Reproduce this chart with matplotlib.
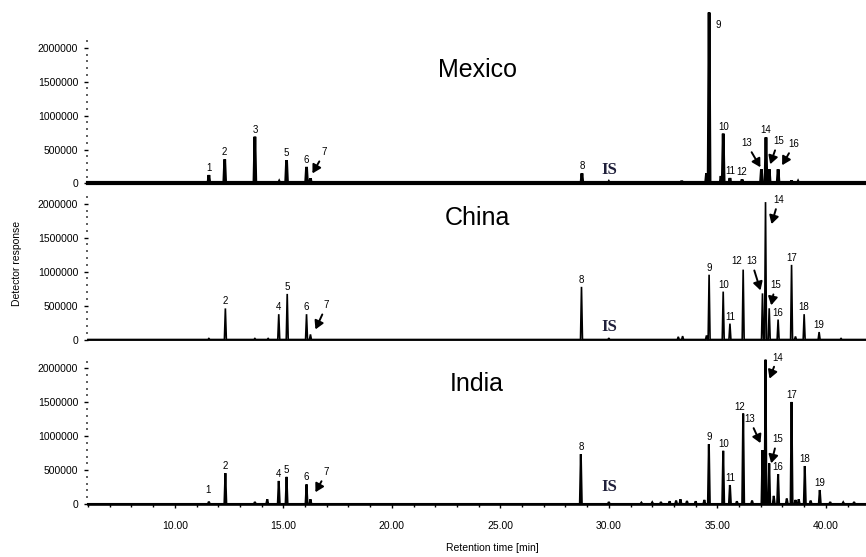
import matplotlib
matplotlib.use("Agg")
import matplotlib.pyplot as plt
from matplotlib.ticker import MultipleLocator, FixedLocator, FormatStrFormatter
import numpy as np

plt.rcParams['font.family'] = ['Liberation Sans', 'DejaVu Sans']

# ---------------- data ----------------
panels = ["Mexico", "China", "India"]
x_ticks = [10, 15, 20, 25, 30, 35, 40]
y_ticks = [0, 500000, 1000000, 1500000, 2000000]

# Mexico: labelled peaks
mex_labels = ["1", "2", "3", "5", "6", "7", "8", "9", "10", "11", "12", "13", "14", "15", "16"]
mex_times = [11.57, 12.30, 13.69, 15.15, 16.07, 16.25, 28.76, 34.62, 35.27, 35.58, 36.14, 37.03, 37.24, 37.39, 37.80]
mex_heights = [125000, 355000, 690000, 345000, 245000, 75000, 150000, 2520000, 735000, 80000, 60000, 210000, 680000, 210000, 210000]
mex_minor_t = [14.81, 30.00, 33.36, 34.50, 35.17, 38.42, 38.72]
mex_minor_h = [30000, 25000, 40000, 150000, 110000, 45000, 30000]

# China
chn_labels = ["2", "4", "5", "6", "7", "8", "9", "10", "11", "12", "13", "14", "15", "16", "17", "18", "19"]
chn_times = [12.33, 14.79, 15.18, 16.07, 16.25, 28.74, 34.62, 35.27, 35.58, 36.19, 37.08, 37.22, 37.39, 37.80, 38.42, 39.00, 39.69]
chn_heights = [458000, 373000, 672000, 373000, 75000, 776000, 955000, 706000, 234000, 1030000, 680000, 2025000, 460000, 294000, 1100000, 373000, 110000]
chn_minor_t = [11.57, 13.69, 14.30, 30.00, 33.20, 33.40, 34.50, 38.60, 40.70]
chn_minor_h = [15000, 15000, 15000, 20000, 40000, 50000, 60000, 45000, 15000]

# India
ind_labels = ["1", "2", "4", "5", "6", "7", "8", "9", "10", "11", "12", "13", "14", "15", "16", "17", "18", "19"]
ind_times = [11.57, 12.33, 14.79, 15.15, 16.07, 16.25, 28.71, 34.61, 35.27, 35.58, 36.19, 37.08, 37.22, 37.39, 37.80, 38.42, 39.03, 39.72]
ind_heights = [35000, 455000, 340000, 400000, 290000, 70000, 735000, 882000, 784000, 280000, 1333000, 794000, 2127000, 600000, 441000, 1504000, 560000, 206000]
ind_minor_t = [13.69, 14.26, 30.00, 31.50, 32.00, 32.40, 32.80, 33.10, 33.30, 33.60, 34.00, 34.40,
               35.90, 36.60, 37.60, 38.20, 38.60, 38.75, 39.30, 40.20, 40.80, 41.30]
ind_minor_h = [30000, 70000, 30000, 20000, 25000, 30000, 40000, 50000, 70000, 45000, 40000, 60000,
               40000, 50000, 120000, 80000, 60000, 70000, 50000, 30000, 25000, 30000]

is_label_t = 30.0
is_label_h = [200000, 190000, 250000]

# ---------------- style / layout ----------------
XLIM = (6.0, 41.85)
YLIM = (0, 2100000)
HALF_W = 0.045
line_w = [2.0, 1.2, 1.5]
base_w = [3.0, 1.3, 1.8]

# arrowed labels: label -> (tip offset from apex px, text offset from tip px)
arrow_specs = [
    {"7": ((2, 5), (12, 21)), "13": ((-1, 2), (-14, 24)), "15": ((1, 5), (8, 23)), "16": ((4, 4), (12, 21))},
    {"7": ((5, 5), (11, 24)), "13": ((-2, 3), (-9, 29)), "14": ((6, -22), (7, 24)), "15": ((2, 3), (4, 20))},
    {"7": ((5, 7), (11, 20)), "13": ((-2, 7), (-11, 24)), "14": ((4, -19), (8, 21)), "15": ((2, 0), (6, 24))},
]
# special (non-arrow) label offsets in px from apex
special_offsets = [{"9": (9, -12)}, {"12": (-6, 9)}, {"1": (-1, 12), "12": (-3, 7)}]

W, H = 866, 557
fig = plt.figure(figsize=(W / 100, H / 100), dpi=100)

baselines_px = [183.5, 339.5, 504.0]
ax_h_px = 142.5
left_px = 88

all_data = [
    (mex_labels, mex_times, mex_heights, mex_minor_t, mex_minor_h),
    (chn_labels, chn_times, chn_heights, chn_minor_t, chn_minor_h),
    (ind_labels, ind_times, ind_heights, ind_minor_t, ind_minor_h),
]

axes = []
for i, (name, data) in enumerate(zip(panels, all_data)):
    labels, times, heights, mt, mh = data
    b = baselines_px[i]
    ax = fig.add_axes([left_px / W, 1 - b / H, (W - left_px) / W, ax_h_px / H])
    axes.append(ax)
    ax.set_xlim(*XLIM)
    ax.set_ylim(*YLIM)
    ax.patch.set_alpha(0)

    pts = sorted(list(zip(times, heights)) + list(zip(mt, mh)))
    xs = [XLIM[0]]
    ys = [0]
    for t, h in pts:
        xs += [t - HALF_W, t, t + HALF_W]
        ys += [0, h, 0]
    xs.append(XLIM[1])
    ys.append(0)
    ax.plot(xs, ys, color='black', lw=line_w[i], clip_on=False, solid_joinstyle='miter', zorder=3)
    ax.plot(XLIM, [0, 0], color='black', lw=base_w[i], clip_on=False, zorder=3)

    for s in ['top', 'right', 'left']:
        ax.spines[s].set_visible(False)
    if i < 2:
        ax.spines['bottom'].set_visible(False)
        ax.tick_params(axis='x', which='both', bottom=False, labelbottom=False)
    else:
        ax.spines['bottom'].set_linewidth(1.0)
        ax.xaxis.set_major_locator(FixedLocator(x_ticks))
        ax.xaxis.set_minor_locator(MultipleLocator(1))
        ax.xaxis.set_major_formatter(FormatStrFormatter('%.2f'))
        ax.tick_params(axis='x', which='major', direction='out', length=3, width=1.0,
                       labelsize=7.5, pad=9)
        ax.tick_params(axis='x', which='minor', direction='out', length=2.5, width=1.0)

    ax.yaxis.set_major_locator(FixedLocator(y_ticks))
    ax.yaxis.set_minor_locator(MultipleLocator(100000))
    ax.yaxis.set_major_formatter(FormatStrFormatter('%d'))
    ax.tick_params(axis='y', which='major', direction='out', length=3, width=1.0, labelsize=7.5, pad=4)
    ax.tick_params(axis='y', which='minor', direction='out', length=1.2, width=1.2, color='#444444')

    # title
    ax.text(0.5, (b - [70, 218, 384][i]) / ax_h_px, name, transform=ax.transAxes,
            ha='center', va='center', fontsize=18)

    # IS label
    ax.text(is_label_t, is_label_h[i], "IS", ha='center', va='center', fontsize=12,
            fontweight='bold', family=['Liberation Serif', 'DejaVu Serif'], color='#1f1f3a', zorder=4)

    # peak labels
    arr = arrow_specs[i]
    spec = special_offsets[i]
    for lab, t, h in zip(labels, times, heights):
        X, Y = ax.transData.transform((t, h))
        if lab in arr:
            (tdx, tdy), (ldx, ldy) = arr[lab]
            tip = ax.transData.inverted().transform((X + tdx, Y + tdy))
            ax.annotate(lab, xy=tip, xytext=(ldx, ldy), textcoords='offset pixels',
                        ha='center', va='center', fontsize=7,
                        arrowprops=dict(arrowstyle='-|>,head_length=0.7,head_width=0.4',
                                        color='black', lw=1.4,
                                        mutation_scale=7, shrinkA=1, shrinkB=0),
                        annotation_clip=False, zorder=5)
        elif lab in spec:
            dx, dy = spec[lab]
            ax.annotate(lab, xy=(t, h), xytext=(dx, dy), textcoords='offset pixels',
                        ha='center', va='center', fontsize=7, annotation_clip=False)
        else:
            ax.annotate(lab, xy=(t, h), xytext=(0, 7), textcoords='offset pixels',
                        ha='center', va='center', fontsize=7, annotation_clip=False)

fig.text(17 / W, 1 - 263 / H, "Detector response", rotation=90, ha='center', va='center', fontsize=7.5)
fig.text(492 / W, 1 - 548 / H, "Retention time [min]", ha='center', va='center', fontsize=7.5)

fig.savefig("out.png", dpi=100)
